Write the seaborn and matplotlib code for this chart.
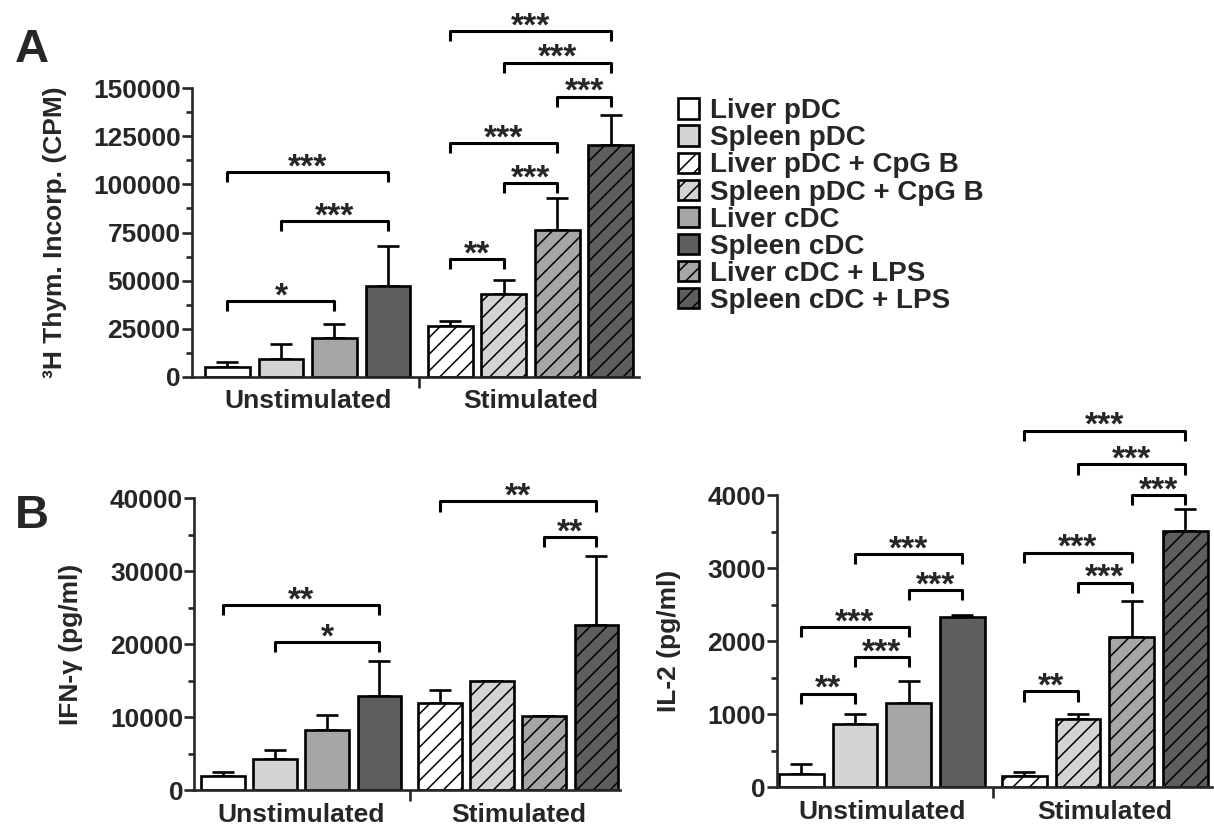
import numpy as np
import pandas as pd
import matplotlib
matplotlib.use("Agg")
import matplotlib.pyplot as plt
from matplotlib.patches import Patch
import seaborn as sns

# %%
# data
conditions = ["Unstimulated", "Stimulated"]
cells = ["Liver", "Spleen", "Liver c", "Spleen c"]
legend_labels = ["Liver pDC", "Spleen pDC", "Liver pDC + CpG B", "Spleen pDC + CpG B",
                 "Liver cDC", "Spleen cDC", "Liver cDC + LPS", "Spleen cDC + LPS"]
cell_colors = ["#ffffff", "#d4d4d4", "#a6a6a6", "#5e5e5e"]

# order: unstim (LpDC, SpDC, LcDC, ScDC), stim (same with CpG B / LPS)
thym_mean = [5200, 9100, 20300, 47400, 26300, 42900, 76300, 120700]
thym_top = [7700, 16900, 27500, 68200, 28900, 50500, 93000, 136200]
ifn_mean = [1970, 4340, 8320, 12940, 11980, 15000, 10150, 22630]
ifn_top = [2500, 5580, 10290, 17740, 13800, 15000, 10150, 32140]
il2_mean = [183, 859, 1152, 2331, 151, 937, 2057, 3511]
il2_top = [320, 997, 1449, 2363, 206, 997, 2546, 3803]

# brackets: (bar i, bar j, height, label)
thym_sig = [(0, 2, 39300, "*"), (1, 3, 81000, "***"), (0, 3, 106400, "***"),
            (4, 5, 61100, "**"), (5, 6, 100700, "***"), (4, 6, 121400, "***"),
            (6, 7, 145500, "***"), (5, 7, 163200, "***"), (4, 7, 179600, "***")]
ifn_sig = [(0, 3, 25400, "**"), (1, 3, 20300, "*"),
           (4, 7, 39600, "**"), (6, 7, 34700, "**")]
il2_sig = [(0, 1, 1280, "**"), (1, 2, 1780, "***"), (0, 2, 2190, "***"),
           (2, 3, 2700, "***"), (1, 3, 3190, "***"),
           (4, 5, 1310, "**"), (5, 6, 2800, "***"), (4, 6, 3210, "***"),
           (6, 7, 4000, "***"), (5, 7, 4420, "***"), (4, 7, 4880, "***")]

# %%
sns.set_style("ticks")
plt.rcParams["font.family"] = ["Liberation Sans", "DejaVu Sans"]
plt.rcParams["font.weight"] = "bold"
plt.rcParams["hatch.linewidth"] = 1.1
LW = 1.9

fig = plt.figure(figsize=(12.14, 8.32), dpi=100)


def panel(rect, means, tops, sig, ymax, major, minor, ylabel, xlim):
    ax = fig.add_axes(rect)
    df = pd.DataFrame({
        "cond": np.repeat(conditions, 4),
        "cell": cells * 2,
        "val": means,
    })
    sns.barplot(data=df, x="cond", y="val", hue="cell", order=conditions,
                hue_order=cells, palette=cell_colors, width=0.96, gap=0.16,
                errorbar=None, legend=False, edgecolor="black", linewidth=LW,
                saturation=1, ax=ax)
    bars = sorted(ax.patches, key=lambda p: p.get_x())
    xs = [p.get_x() + p.get_width() / 2 for p in bars]
    for k, p in enumerate(bars):
        if k >= 4:
            p.set_hatch("//")
    # upper error bars only
    err = [t - m for t, m in zip(tops, means)]
    ax.errorbar(xs, means, yerr=[np.zeros(8), err], fmt="none", ecolor="black",
                elinewidth=LW, capsize=8, capthick=LW, zorder=1)
    for p in bars:
        p.set_zorder(2)
    # significance brackets
    h = ymax * 0.035
    for i, j, y, lab in sig:
        ax.plot([xs[i], xs[i], xs[j], xs[j]], [y - h, y, y, y - h], color="black",
                lw=LW + 0.3, clip_on=False, solid_capstyle="butt")
        ax.annotate(lab, ((xs[i] + xs[j]) / 2, y), xytext=(0, -3),
                    textcoords="offset points", ha="center", va="baseline",
                    fontsize=24, fontweight="bold", annotation_clip=False)
    ax.set_ylim(0, ymax)
    ax.set_xlim(*xlim)
    ax.set_yticks(np.arange(0, ymax + 1, major))
    ax.set_yticks(np.arange(0, ymax + 1, minor), minor=True)
    ax.set_xticks([0, 1])
    ax.set_xticklabels(conditions, fontsize=19, fontweight="bold")
    ax.set_xticks([0.5], minor=True)
    ax.tick_params(axis="x", which="major", length=0, pad=9)
    ax.tick_params(axis="x", which="minor", length=8, width=LW, direction="out")
    ax.tick_params(axis="y", which="major", length=7, width=LW, labelsize=19, pad=1)
    ax.tick_params(axis="y", which="minor", length=4, width=LW)
    for lbl in ax.get_yticklabels():
        lbl.set_fontweight("bold")
    ax.set_xlabel("")
    ax.set_ylabel(ylabel, fontsize=19, fontweight="bold", labelpad=19)
    sns.despine(ax=ax)
    for s in ["left", "bottom"]:
        ax.spines[s].set_linewidth(LW)
    return ax


panel([0.158, 0.547, 0.368, 0.347], thym_mean, thym_top, thym_sig, 150000,
      25000, 12500, "³H Thym. Incorp. (CPM)", (-0.52, 1.484))
panel([0.160, 0.050, 0.351, 0.351], ifn_mean, ifn_top, ifn_sig, 40000,
      10000, 5000, "IFN-γ (pg/ml)", (-0.493, 1.47))
panel([0.640, 0.054, 0.358, 0.351], il2_mean, il2_top, il2_sig, 4000,
      1000, 500, "IL-2 (pg/ml)", (-0.47, 1.479))

# legend
handles = []
for k, lab in enumerate(legend_labels):
    ci = [0, 1, 0, 1, 2, 3, 2, 3][k]
    hatch = "//" if "+" in lab else None
    handles.append(Patch(facecolor=cell_colors[ci], edgecolor="black", linewidth=LW,
                         hatch=hatch, label=lab))
fig.legend(handles=handles, loc="upper left", bbox_to_anchor=(0.538, 0.912),
           frameon=False, handlelength=0.75, handleheight=0.75,
           labelspacing=0.04, handletextpad=0.4, prop={"weight": "bold", "size": 20})

fig.text(0.012, 0.925, "A", fontsize=34, fontweight="bold")
fig.text(0.012, 0.365, "B", fontsize=34, fontweight="bold")

fig.savefig("out.png", dpi=100)
